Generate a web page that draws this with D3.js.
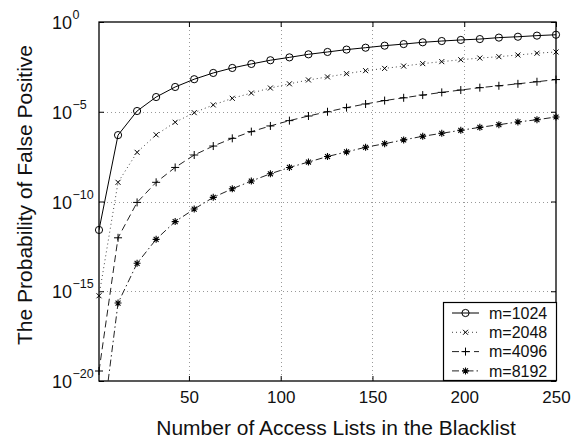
<html>
<head>
    <meta charset="utf-8">
    <title>False positive</title>
    <style>
        body { margin: 0; background: #fff; }
        text { font-family: "Liberation Sans", Arial, sans-serif; fill: #111; }
    </style>
</head>
<body>
<script src="https://cdn.jsdelivr.net/npm/d3@7"></script>
<script>
    var width = 585;
    var height = 442;

    // x positions of the 25 samples (access lists)
    var lists = [1, 11.375, 21.75, 32.125, 42.5, 52.875, 63.25, 73.625, 84, 94.375,
        104.75, 115.125, 125.5, 135.875, 146.25, 156.625, 167, 177.375, 187.75,
        198.125, 208.5, 218.875, 229.25, 239.625, 250];

    var m1024 = [2.6e-12, 5.0e-7, 1.1e-5, 6.6e-5, 2.4e-4, 6.5e-4, 1.45e-3, 2.75e-3, 4.6e-3,
        7.4e-3, 1.07e-2, 1.58e-2, 2.14e-2, 2.9e-2, 3.7e-2, 4.8e-2, 5.9e-2, 7.4e-2, 8.7e-2,
        0.100, 0.112, 0.135, 0.151, 0.174, 0.195];
    var m2048 = [5.6e-16, 1.17e-9, 5.5e-8, 5.2e-7, 2.6e-6, 8.9e-6, 2.4e-5, 5.6e-5, 1.1e-4,
        2.1e-4, 3.6e-4, 5.9e-4, 8.7e-4, 1.32e-3, 1.95e-3, 2.6e-3, 3.5e-3, 4.8e-3, 6.2e-3,
        7.9e-3, 9.8e-3, 1.17e-2, 1.45e-2, 1.82e-2, 2.14e-2];
    var m4096 = [3.6e-20, 9.5e-13, 8.9e-11, 1.17e-9, 7.9e-9, 3.9e-8, 1.23e-7, 3.3e-7, 7.8e-7,
        1.62e-6, 3.2e-6, 5.8e-6, 1.0e-5, 1.7e-5, 2.7e-5, 4.2e-5, 6.0e-5, 8.5e-5, 1.2e-4,
        1.62e-4, 2.2e-4, 2.8e-4, 3.6e-4, 4.7e-4, 6.2e-4];
    var m8192 = [1e-24, 2.2e-16, 3.6e-14, 7.8e-13, 7.6e-12, 3.8e-11, 1.7e-10, 5.1e-10, 1.38e-9,
        3.5e-9, 7.9e-9, 1.58e-8, 3.2e-8, 5.8e-8, 1.05e-7, 1.66e-7, 2.7e-7, 4.3e-7, 6.3e-7,
        9.3e-7, 1.35e-6, 1.9e-6, 2.7e-6, 3.6e-6, 5.1e-6];

    var seriesNames = ["m=1024", "m=2048", "m=4096", "m=8192"];
    var xTicks = [50, 100, 150, 200, 250];
    var yTicks = [1e-20, 1e-15, 1e-10, 1e-5, 1];
    var yExps = ["\u221220", "\u221215", "\u221210", "\u22125", "0"];

    var pLeft = 99, pRight = 556, pTop = 22, pBottom = 381;

    var x = d3.scaleLinear().domain([1, 250]).range([pLeft, pRight]);
    var y = d3.scaleLog().domain([1e-20, 1]).range([pBottom, pTop]);

    var svg = d3.select('body').append('svg')
        .attr('width', width)
        .attr('height', height);

    svg.append('rect').attr('width', width).attr('height', height).attr('fill', '#fff');

    svg.append('clipPath').attr('id', 'plot')
        .append('rect')
        .attr('x', pLeft).attr('y', pTop)
        .attr('width', pRight - pLeft).attr('height', pBottom - pTop);

    // grid
    var grid = svg.append('g')
        .attr('stroke', '#999')
        .attr('stroke-width', 1)
        .attr('stroke-dasharray', '1,3');
    grid.selectAll('.vg').data(xTicks.slice(0, -1)).enter().append('line')
        .attr('x1', function (d) { return Math.round(x(d)) + 0.5; })
        .attr('x2', function (d) { return Math.round(x(d)) + 0.5; })
        .attr('y1', pTop).attr('y2', pBottom);
    grid.selectAll('.hg').data(yTicks.slice(1, -1)).enter().append('line')
        .attr('y1', function (d) { return Math.round(y(d)) + 0.5; })
        .attr('y2', function (d) { return Math.round(y(d)) + 0.5; })
        .attr('x1', pLeft).attr('x2', pRight);

    // axes with inward ticks on all sides
    var tl = 5;
    svg.append('g').attr('transform', 'translate(0,' + pBottom + ')')
        .call(d3.axisBottom(x).tickValues(xTicks).tickSize(-tl).tickPadding(10))
        .call(function (g) {
            g.select('.domain').remove();
            g.selectAll('text').attr('font-size', 17).attr('fill', '#111')
                .attr('font-family', '"Liberation Sans", Arial, sans-serif');
        });
    svg.append('g').attr('transform', 'translate(0,' + pTop + ')')
        .call(d3.axisTop(x).tickValues(xTicks).tickSize(-tl).tickFormat(''))
        .call(function (g) { g.select('.domain').remove(); });
    svg.append('g').attr('transform', 'translate(' + pLeft + ',0)')
        .call(d3.axisLeft(y).tickValues(yTicks).tickSize(-tl).tickFormat(''))
        .call(function (g) { g.select('.domain').remove(); });
    svg.append('g').attr('transform', 'translate(' + pRight + ',0)')
        .call(d3.axisRight(y).tickValues(yTicks).tickSize(-tl).tickFormat(''))
        .call(function (g) { g.select('.domain').remove(); });

    svg.append('rect')
        .attr('x', pLeft).attr('y', pTop)
        .attr('width', pRight - pLeft).attr('height', pBottom - pTop)
        .attr('fill', 'none').attr('stroke', '#000').attr('stroke-width', 1.3);

    // y tick labels 10^k
    var yl = svg.selectAll('.ylab').data(yTicks).enter().append('g')
        .attr('transform', function (d) { return 'translate(0,' + y(d) + ')'; });
    yl.append('text')
        .attr('x', 72).attr('y', 7)
        .attr('text-anchor', 'end')
        .attr('font-size', 18)
        .text('10');
    yl.append('text')
        .attr('x', 72.5).attr('y', -3)
        .attr('font-size', 12.5)
        .text(function (d, i) { return yExps[i]; });

    // titles
    svg.append('text')
        .attr('x', 336).attr('y', 435)
        .attr('text-anchor', 'middle')
        .attr('font-size', 21)
        .text('Number of Access Lists in the Blacklist');
    svg.append('text')
        .attr('transform', 'translate(32,' + 195 + ') rotate(-90)')
        .attr('text-anchor', 'middle')
        .attr('font-size', 21)
        .text('The Probability of False Positive');

    // series
    var styles = [
        { data: m1024, dash: null, stroke: '#000', marker: 'circle' },
        { data: m2048, dash: '1,3', stroke: '#444', marker: 'x' },
        { data: m4096, dash: '7,4', stroke: '#222', marker: 'plus' },
        { data: m8192, dash: '7,3,1.5,3', stroke: '#222', marker: 'star' }
    ];

    var line = d3.line()
        .x(function (d) { return x(d[0]); })
        .y(function (d) { return y(d[1]); });

    function drawMarker(g, type, px, py) {
        if (type === 'circle') {
            g.append('circle').attr('cx', px).attr('cy', py).attr('r', 3.6)
                .attr('fill', 'none').attr('stroke', '#000').attr('stroke-width', 1);
        } else if (type === 'x') {
            var s = 2.5;
            g.append('path')
                .attr('d', 'M' + (px - s) + ',' + (py - s) + 'L' + (px + s) + ',' + (py + s) +
                    'M' + (px - s) + ',' + (py + s) + 'L' + (px + s) + ',' + (py - s))
                .attr('stroke', '#000').attr('stroke-width', 1);
        } else if (type === 'plus') {
            var p = 4;
            g.append('path')
                .attr('d', 'M' + (px - p) + ',' + py + 'L' + (px + p) + ',' + py +
                    'M' + px + ',' + (py - p) + 'L' + px + ',' + (py + p))
                .attr('stroke', '#000').attr('stroke-width', 1);
        } else {
            var r = 3.5, d = '';
            for (var k = 0; k < 4; k++) {
                var a = k * Math.PI / 4;
                d += 'M' + (px - r * Math.cos(a)) + ',' + (py - r * Math.sin(a)) +
                    'L' + (px + r * Math.cos(a)) + ',' + (py + r * Math.sin(a));
            }
            g.append('path').attr('d', d).attr('stroke', '#000').attr('stroke-width', 1.1);
        }
    }

    styles.forEach(function (s) {
        var pts = lists.map(function (v, i) { return [v, s.data[i]]; });
        svg.append('path')
            .datum(pts)
            .attr('clip-path', 'url(#plot)')
            .attr('d', line)
            .attr('fill', 'none')
            .attr('stroke', s.stroke)
            .attr('stroke-width', 1)
            .attr('stroke-dasharray', s.dash);
        var mg = svg.append('g');
        pts.forEach(function (p) {
            if (p[1] >= 1e-20 && p[1] <= 1) drawMarker(mg, s.marker, x(p[0]), y(p[1]));
        });
    });

    // legend
    var lx = 443, ly = 302, lw = 113, lh = 78;
    svg.append('rect')
        .attr('x', lx + 0.5).attr('y', ly + 0.5)
        .attr('width', lw).attr('height', lh)
        .attr('fill', '#fff').attr('stroke', '#000').attr('stroke-width', 1.2);
    seriesNames.forEach(function (name, i) {
        var cy = ly + 11 + i * 19.3;
        var g = svg.append('g');
        g.append('line')
            .attr('x1', lx + 9).attr('x2', lx + 36)
            .attr('y1', cy).attr('y2', cy)
            .attr('stroke', styles[i].stroke)
            .attr('stroke-width', 1)
            .attr('stroke-dasharray', styles[i].dash);
        drawMarker(g, styles[i].marker, lx + 22.5, cy);
        g.append('text')
            .attr('x', lx + 46).attr('y', cy + 5.8)
            .attr('font-size', 16)
            .text(name);
    });
</script>
</body>
</html>
